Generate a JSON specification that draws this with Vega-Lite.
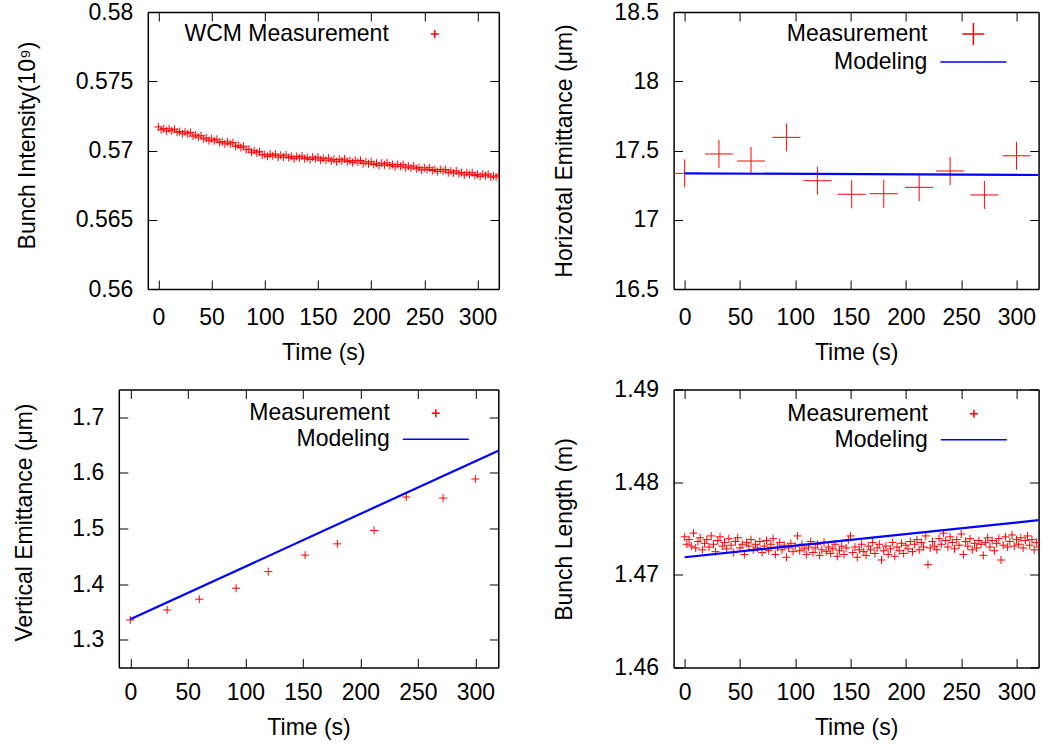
{
  "$schema": "https://vega.github.io/schema/vega-lite/v6.json",
  "background": "white",
  "padding": {"left": 12.8, "top": 1, "right": 0, "bottom": 0},
  "config": {
    "font": "Liberation Sans",
    "view": {"stroke": null},
    "axis": {"grid": false, "domain": true, "domainColor": "#000", "domainWidth": 1.5, "tickSize": -9, "tickColor": "#000", "tickWidth": 1, "labelFont": "Liberation Sans", "labelFontSize": 23, "labelColor": "#000", "titleFont": "Liberation Sans", "titleFontSize": 23, "titleFontWeight": "normal", "titleColor": "#000", "format": "~r", "labelFlush": false, "labelOverlap": false},
    "axisLeft": {"labelPadding": 24, "titleAngle": 270, "titleBaseline": "middle", "titleAlign": "center"},
    "axisBottom": {"titleBaseline": "alphabetic", "titleAlign": "center"},
    "legend": {"orient": "none", "padding": 0, "labelAlign": "right", "labelOffset": -57.5, "symbolSize": 225, "labelLimit": 400, "labelFont": "Liberation Sans", "labelFontSize": 23, "labelColor": "#000", "symbolOpacity": 1}
  },
  "datasets": {
    "A": [
      {"t":0,"v":0.5717},{"t":2.5,"v":0.571495},{"t":5,"v":0.57158},{"t":7.5,"v":0.571405},{"t":10,"v":0.57156},{"t":12.5,"v":0.571423},{"t":15,"v":0.571535},{"t":17.5,"v":0.571318},{"t":20,"v":0.57137},{"t":22.5,"v":0.571208},{"t":25,"v":0.571345},{"t":27.5,"v":0.571203},{"t":30,"v":0.5713},{"t":32.5,"v":0.571038},{"t":35,"v":0.571125},{"t":37.5,"v":0.570963},{"t":40,"v":0.57107},{"t":42.5,"v":0.570843},{"t":45,"v":0.570905},{"t":47.5,"v":0.570708},{"t":50,"v":0.57084},{"t":52.5,"v":0.5707},{"t":55,"v":0.57081},{"t":57.5,"v":0.57059},{"t":60,"v":0.57064},{"t":62.5,"v":0.570478},{"t":65,"v":0.570615},{"t":67.5,"v":0.570473},{"t":70,"v":0.57057},{"t":72.5,"v":0.5703},{"t":75,"v":0.57038},{"t":77.5,"v":0.57021},{"t":80,"v":0.57031},{"t":82.5,"v":0.570058},{"t":85,"v":0.570095},{"t":87.5,"v":0.569873},{"t":90,"v":0.56998},{"t":92.5,"v":0.569823},{"t":95,"v":0.569915},{"t":97.5,"v":0.569678},{"t":100,"v":0.56971},{"t":102.5,"v":0.569573},{"t":105,"v":0.569735},{"t":107.5,"v":0.569618},{"t":110,"v":0.56974},{"t":112.5,"v":0.56952},{"t":115,"v":0.56965},{"t":117.5,"v":0.56953},{"t":120,"v":0.56968},{"t":122.5,"v":0.569483},{"t":125,"v":0.569575},{"t":127.5,"v":0.569408},{"t":130,"v":0.56957},{"t":132.5,"v":0.56946},{"t":135,"v":0.5696},{"t":137.5,"v":0.56941},{"t":140,"v":0.56949},{"t":142.5,"v":0.569353},{"t":145,"v":0.569515},{"t":147.5,"v":0.569398},{"t":150,"v":0.56952},{"t":152.5,"v":0.569298},{"t":155,"v":0.569425},{"t":157.5,"v":0.569303},{"t":160,"v":0.56945},{"t":162.5,"v":0.569258},{"t":165,"v":0.569355},{"t":167.5,"v":0.569193},{"t":170,"v":0.56936},{"t":172.5,"v":0.569248},{"t":175,"v":0.569385},{"t":177.5,"v":0.569193},{"t":180,"v":0.56927},{"t":182.5,"v":0.569128},{"t":185,"v":0.569285},{"t":187.5,"v":0.569163},{"t":190,"v":0.56928},{"t":192.5,"v":0.569053},{"t":195,"v":0.569175},{"t":197.5,"v":0.569048},{"t":200,"v":0.56919},{"t":202.5,"v":0.568993},{"t":205,"v":0.569085},{"t":207.5,"v":0.568918},{"t":210,"v":0.56908},{"t":212.5,"v":0.568965},{"t":215,"v":0.5691},{"t":217.5,"v":0.568905},{"t":220,"v":0.56898},{"t":222.5,"v":0.568835},{"t":225,"v":0.56899},{"t":227.5,"v":0.568865},{"t":230,"v":0.56898},{"t":232.5,"v":0.56875},{"t":235,"v":0.56887},{"t":237.5,"v":0.56874},{"t":240,"v":0.56888},{"t":242.5,"v":0.568678},{"t":245,"v":0.568765},{"t":247.5,"v":0.568593},{"t":250,"v":0.56875},{"t":252.5,"v":0.568628},{"t":255,"v":0.568755},{"t":257.5,"v":0.568553},{"t":260,"v":0.56862},{"t":262.5,"v":0.568478},{"t":265,"v":0.568635},{"t":267.5,"v":0.568513},{"t":270,"v":0.56863},{"t":272.5,"v":0.568398},{"t":275,"v":0.568515},{"t":277.5,"v":0.568383},{"t":280,"v":0.56852},{"t":282.5,"v":0.568318},{"t":285,"v":0.568405},{"t":287.5,"v":0.568233},{"t":290,"v":0.56839},{"t":292.5,"v":0.56827},{"t":295,"v":0.5684},{"t":297.5,"v":0.5682},{"t":300,"v":0.56827},{"t":302.5,"v":0.568133},{"t":305,"v":0.568295},{"t":307.5,"v":0.568178},{"t":310,"v":0.5683},{"t":312.5,"v":0.568078},{"t":315,"v":0.56816},{"t":317.5,"v":0.568083},{"t":320,"v":0.56823}
    ],
    "B": [
      {"t":0,"v":17.335},{"t":31,"v":17.475},{"t":60,"v":17.424},{"t":92,"v":17.595},{"t":120,"v":17.282},{"t":151,"v":17.184},{"t":180,"v":17.188},{"t":212,"v":17.234},{"t":240,"v":17.352},{"t":271,"v":17.179},{"t":300,"v":17.462}
    ],
    "BM": [{"t":0,"v":17.335},{"t":320,"v":17.323}],
    "C": [
      {"t":0,"v":1.3355},{"t":32,"v":1.3535},{"t":60,"v":1.3728},{"t":92,"v":1.3926},{"t":120,"v":1.4225},{"t":152,"v":1.4521},{"t":180,"v":1.4724},{"t":212,"v":1.4964},{"t":240,"v":1.5566},{"t":272,"v":1.5548},{"t":300,"v":1.589}
    ],
    "CM": [{"t":0,"v":1.3367},{"t":320,"v":1.64}],
    "D": [
      {"t":0,"v":1.4741},{"t":2,"v":1.4733},{"t":4,"v":1.4738},{"t":6,"v":1.4731},{"t":8,"v":1.4745},{"t":10,"v":1.4729},{"t":12,"v":1.4736},{"t":14,"v":1.474},{"t":16,"v":1.4727},{"t":18,"v":1.4734},{"t":20,"v":1.4738},{"t":22,"v":1.473},{"t":24,"v":1.4742},{"t":26,"v":1.4733},{"t":28,"v":1.4725},{"t":30,"v":1.4737},{"t":32,"v":1.4741},{"t":34,"v":1.4731},{"t":36,"v":1.4735},{"t":38,"v":1.4728},{"t":40,"v":1.4739},{"t":42,"v":1.4732},{"t":44,"v":1.4724},{"t":46,"v":1.4736},{"t":48,"v":1.474},{"t":50,"v":1.4729},{"t":52,"v":1.4733},{"t":54,"v":1.4722},{"t":56,"v":1.4735},{"t":58,"v":1.4731},{"t":60,"v":1.4738},{"t":62,"v":1.4727},{"t":64,"v":1.4733},{"t":66,"v":1.4729},{"t":68,"v":1.4736},{"t":70,"v":1.4724},{"t":72,"v":1.4731},{"t":74,"v":1.4737},{"t":76,"v":1.4726},{"t":78,"v":1.4733},{"t":80,"v":1.4739},{"t":82,"v":1.4722},{"t":84,"v":1.473},{"t":86,"v":1.4735},{"t":88,"v":1.4727},{"t":90,"v":1.4732},{"t":92,"v":1.4719},{"t":94,"v":1.4729},{"t":96,"v":1.4734},{"t":98,"v":1.4725},{"t":100,"v":1.4731},{"t":102,"v":1.4742},{"t":104,"v":1.4726},{"t":106,"v":1.4733},{"t":108,"v":1.4728},{"t":110,"v":1.4722},{"t":112,"v":1.473},{"t":114,"v":1.4736},{"t":116,"v":1.4724},{"t":118,"v":1.4729},{"t":120,"v":1.4733},{"t":122,"v":1.4721},{"t":124,"v":1.4727},{"t":126,"v":1.4735},{"t":128,"v":1.4725},{"t":130,"v":1.473},{"t":132,"v":1.4723},{"t":134,"v":1.4728},{"t":136,"v":1.4733},{"t":138,"v":1.472},{"t":140,"v":1.4726},{"t":142,"v":1.4731},{"t":144,"v":1.4722},{"t":146,"v":1.4729},{"t":148,"v":1.4738},{"t":150,"v":1.4742},{"t":152,"v":1.4724},{"t":154,"v":1.473},{"t":156,"v":1.4719},{"t":158,"v":1.4727},{"t":160,"v":1.4733},{"t":162,"v":1.4725},{"t":164,"v":1.4721},{"t":166,"v":1.4731},{"t":168,"v":1.4727},{"t":170,"v":1.4735},{"t":172,"v":1.4723},{"t":174,"v":1.4729},{"t":176,"v":1.4733},{"t":178,"v":1.4716},{"t":180,"v":1.4726},{"t":182,"v":1.4731},{"t":184,"v":1.4722},{"t":186,"v":1.4728},{"t":188,"v":1.4735},{"t":190,"v":1.472},{"t":192,"v":1.473},{"t":194,"v":1.4726},{"t":196,"v":1.4734},{"t":198,"v":1.4723},{"t":200,"v":1.4732},{"t":202,"v":1.4728},{"t":204,"v":1.4736},{"t":206,"v":1.4725},{"t":208,"v":1.4733},{"t":210,"v":1.4738},{"t":212,"v":1.4727},{"t":214,"v":1.4735},{"t":216,"v":1.473},{"t":218,"v":1.4742},{"t":220,"v":1.4711},{"t":222,"v":1.4729},{"t":224,"v":1.4736},{"t":226,"v":1.4731},{"t":228,"v":1.4727},{"t":230,"v":1.4739},{"t":232,"v":1.4733},{"t":234,"v":1.4745},{"t":236,"v":1.4737},{"t":238,"v":1.473},{"t":240,"v":1.4741},{"t":242,"v":1.4735},{"t":244,"v":1.4728},{"t":246,"v":1.4738},{"t":248,"v":1.4732},{"t":250,"v":1.4744},{"t":252,"v":1.4722},{"t":254,"v":1.4736},{"t":256,"v":1.4731},{"t":258,"v":1.4739},{"t":260,"v":1.4727},{"t":262,"v":1.4734},{"t":264,"v":1.4729},{"t":266,"v":1.4737},{"t":268,"v":1.4733},{"t":270,"v":1.4721},{"t":272,"v":1.4735},{"t":274,"v":1.474},{"t":276,"v":1.473},{"t":278,"v":1.4737},{"t":280,"v":1.4726},{"t":282,"v":1.4734},{"t":284,"v":1.4739},{"t":286,"v":1.4716},{"t":288,"v":1.4732},{"t":290,"v":1.4741},{"t":292,"v":1.473},{"t":294,"v":1.4736},{"t":296,"v":1.4743},{"t":298,"v":1.4731},{"t":300,"v":1.4738},{"t":302,"v":1.4733},{"t":304,"v":1.474},{"t":306,"v":1.4729},{"t":308,"v":1.4737},{"t":310,"v":1.4742},{"t":312,"v":1.4732},{"t":314,"v":1.4738},{"t":316,"v":1.4727},{"t":318,"v":1.4735},{"t":320,"v":1.473}
    ],
    "DM": [{"t":0,"v":1.4719},{"t":320,"v":1.4759}]
  },
  "columns": 2,
  "align": "each",
  "spacing": {"row": 13.5, "column": 53.8},
  "resolve": {"scale": {"color": "independent", "shape": "independent"}, "legend": {"color": "independent", "shape": "independent"}},
  "concat": [
    {
      "width": 380, "height": 277,
      "layer": [
        {
          "data": {"name": "A"},
          "mark": {"type": "point", "filled": false, "opacity": 1, "size": 225, "strokeWidth": 1, "clip": true},
          "encoding": {
            "x": {"field": "t", "type": "quantitative", "scale": {"domain": [-10, 320], "nice": false, "zero": false, "rangeMin": 29}, "axis": {"title": "Time (s)", "values": [0,50,100,150,200,250,300], "labelPadding": 26.3, "titleY": 70.5}},
            "y": {"field": "v", "type": "quantitative", "scale": {"domain": [0.56, 0.58], "nice": false, "zero": false}, "axis": {"title": "Bunch Intensity(10⁹)", "values": [0.56,0.565,0.57,0.575,0.58], "offset": -29, "titleX": -120, "titleY": 133}},
            "color": {"datum": "WCM Measurement", "type": "nominal", "scale": {"domain": ["WCM Measurement"], "range": ["#ff0000"]}, "legend": {"title": null, "legendX": 304.5, "legendY": 10.5, "encode": {"symbols": {"update": {"strokeWidth": {"value": 1}, "fill": {"value": "transparent"}, "stroke": {"value": "#ff0000"}}}}}},
            "shape": {"datum": "WCM Measurement", "type": "nominal", "scale": {"domain": ["WCM Measurement"], "range": ["M-0.533,0H0.533M0,-0.533V0.533"]}, "legend": {"title": null, "legendX": 304.5, "legendY": 10.5}}
          }
        },
        {
          "data": {"name": "A"},
          "mark": {"type": "point", "opacity": 0, "clip": true},
          "encoding": {
            "x": {"field": "t", "type": "quantitative", "scale": {"domain": [-10, 320], "nice": false, "zero": false, "rangeMin": 29}, "axis": {"orient": "top", "labels": false, "title": null, "values": [0,50,100,150,200,250,300]}},
            "y": {"field": "v", "type": "quantitative", "scale": {"domain": [0.56, 0.58], "nice": false, "zero": false}, "axis": {"orient": "right", "labels": false, "title": null, "values": [0.56,0.565,0.57,0.575,0.58]}}
          }
        }
      ],
      "resolve": {"axis": {"x": "independent", "y": "independent"}}
    },
    {
      "width": 365, "height": 277,
      "layer": [
        {
          "data": {"name": "B"},
          "mark": {"type": "point", "filled": false, "opacity": 1, "size": 364, "strokeWidth": 1, "clip": true},
          "encoding": {
            "x": {"field": "t", "type": "quantitative", "scale": {"domain": [-10, 320], "nice": false, "zero": false}, "axis": {"title": "Time (s)", "values": [0,50,100,150,200,250,300], "labelPadding": 26.3, "titleY": 70.5}},
            "y": {"field": "v", "type": "quantitative", "scale": {"domain": [16.5, 18.5], "nice": false, "zero": false}, "axis": {"title": "Horizotal Emittance (μm)", "values": [16.5,17,17.5,18,18.5], "titleX": -108.7, "titleY": 138.5}},
            "color": {"datum": "Measurement", "type": "nominal", "scale": {"domain": ["Measurement", "Modeling"], "range": ["#ff0000", "#0000ff"]}, "legend": {"title": null, "legendX": 288.3, "legendY": 10.5, "encode": {"symbols": {"update": {"strokeWidth": {"signal": "datum.value === 'Modeling' ? 2.2 : 1"}, "fill": {"value": "transparent"}, "stroke": {"signal": "datum.value === 'Modeling' ? '#0000ff' : '#ff0000'"}}}}}},
            "shape": {"datum": "Measurement", "type": "nominal", "scale": {"domain": ["Measurement", "Modeling"], "range": ["M-1.467,0H1.467M0,-1.467V1.467", "M-4.4,0H4.4"]}, "legend": {"title": null, "legendX": 288.3, "legendY": 10.5}}
          }
        },
        {
          "data": {"name": "BM"},
          "mark": {"type": "line", "strokeWidth": 2.2, "clip": true},
          "encoding": {
            "x": {"field": "t", "type": "quantitative", "scale": {"domain": [-10, 320], "nice": false, "zero": false}, "axis": {"orient": "top", "labels": false, "title": null, "values": [0,50,100,150,200,250,300]}},
            "y": {"field": "v", "type": "quantitative", "scale": {"domain": [16.5, 18.5], "nice": false, "zero": false}, "axis": {"orient": "right", "labels": false, "title": null, "values": [16.5,17,17.5,18,18.5]}},
            "color": {"datum": "Modeling", "type": "nominal", "scale": {"domain": ["Measurement", "Modeling"], "range": ["#ff0000", "#0000ff"]}, "legend": {"title": null, "legendX": 288.3, "legendY": 10.5}}
          }
        }
      ],
      "resolve": {"axis": {"x": "independent", "y": "independent"}}
    },
    {
      "width": 379.5, "height": 278,
      "layer": [
        {
          "data": {"name": "C"},
          "mark": {"type": "point", "filled": false, "opacity": 1, "size": 225, "strokeWidth": 1, "clip": true},
          "encoding": {
            "x": {"field": "t", "type": "quantitative", "scale": {"domain": [-10, 320], "nice": false, "zero": false}, "axis": {"title": "Time (s)", "values": [0,50,100,150,200,250,300], "labelPadding": 23, "titleY": 67}},
            "y": {"field": "v", "type": "quantitative", "scale": {"domain": [1.25, 1.75], "nice": false, "zero": false}, "axis": {"title": "Vertical Emittance (μm)", "values": [1.3,1.4,1.5,1.6,1.7], "titleX": -94.3, "titleY": 132.5}},
            "color": {"datum": "Measurement", "type": "nominal", "scale": {"domain": ["Measurement", "Modeling"], "range": ["#ff0000", "#0000ff"]}, "legend": {"title": null, "legendX": 305.5, "legendY": 12.3, "encode": {"symbols": {"update": {"strokeWidth": {"signal": "datum.value === 'Modeling' ? 2.2 : 1"}, "fill": {"value": "transparent"}, "stroke": {"signal": "datum.value === 'Modeling' ? '#0000ff' : '#ff0000'"}}}}}},
            "shape": {"datum": "Measurement", "type": "nominal", "scale": {"domain": ["Measurement", "Modeling"], "range": ["M-0.533,0H0.533M0,-0.533V0.533", "M-4.4,0H4.4"]}, "legend": {"title": null, "legendX": 305.5, "legendY": 12.3}}
          }
        },
        {
          "data": {"name": "CM"},
          "mark": {"type": "line", "strokeWidth": 2.2, "clip": true},
          "encoding": {
            "x": {"field": "t", "type": "quantitative", "scale": {"domain": [-10, 320], "nice": false, "zero": false}, "axis": {"orient": "top", "labels": false, "title": null, "values": [0,50,100,150,200,250,300]}},
            "y": {"field": "v", "type": "quantitative", "scale": {"domain": [1.25, 1.75], "nice": false, "zero": false}, "axis": {"orient": "right", "labels": false, "title": null, "values": [1.3,1.4,1.5,1.6,1.7]}},
            "color": {"datum": "Modeling", "type": "nominal", "scale": {"domain": ["Measurement", "Modeling"], "range": ["#ff0000", "#0000ff"]}, "legend": {"title": null, "legendX": 305.5, "legendY": 12.3}}
          }
        }
      ],
      "resolve": {"axis": {"x": "independent", "y": "independent"}}
    },
    {
      "width": 365, "height": 278,
      "layer": [
        {
          "data": {"name": "D"},
          "mark": {"type": "point", "filled": false, "opacity": 1, "size": 225, "strokeWidth": 1, "clip": true},
          "encoding": {
            "x": {"field": "t", "type": "quantitative", "scale": {"domain": [-10, 320], "nice": false, "zero": false}, "axis": {"title": "Time (s)", "values": [0,50,100,150,200,250,300], "labelPadding": 23, "titleY": 67}},
            "y": {"field": "v", "type": "quantitative", "scale": {"domain": [1.46, 1.49], "nice": false, "zero": false}, "axis": {"title": "Bunch Length (m)", "values": [1.46,1.47,1.48,1.49], "titleX": -108.7, "titleY": 139.5}},
            "color": {"datum": "Measurement", "type": "nominal", "scale": {"domain": ["Measurement", "Modeling"], "range": ["#ff0000", "#0000ff"]}, "legend": {"title": null, "legendX": 288.8, "legendY": 12.8, "encode": {"symbols": {"update": {"strokeWidth": {"signal": "datum.value === 'Modeling' ? 2.2 : 1"}, "fill": {"value": "transparent"}, "stroke": {"signal": "datum.value === 'Modeling' ? '#0000ff' : '#ff0000'"}}}}}},
            "shape": {"datum": "Measurement", "type": "nominal", "scale": {"domain": ["Measurement", "Modeling"], "range": ["M-0.533,0H0.533M0,-0.533V0.533", "M-4.4,0H4.4"]}, "legend": {"title": null, "legendX": 288.8, "legendY": 12.8}}
          }
        },
        {
          "data": {"name": "DM"},
          "mark": {"type": "line", "strokeWidth": 2.2, "clip": true},
          "encoding": {
            "x": {"field": "t", "type": "quantitative", "scale": {"domain": [-10, 320], "nice": false, "zero": false}, "axis": {"orient": "top", "labels": false, "title": null, "values": [0,50,100,150,200,250,300]}},
            "y": {"field": "v", "type": "quantitative", "scale": {"domain": [1.46, 1.49], "nice": false, "zero": false}, "axis": {"orient": "right", "labels": false, "title": null, "values": [1.46,1.47,1.48,1.49]}},
            "color": {"datum": "Modeling", "type": "nominal", "scale": {"domain": ["Measurement", "Modeling"], "range": ["#ff0000", "#0000ff"]}, "legend": {"title": null, "legendX": 288.8, "legendY": 12.8}}
          }
        }
      ],
      "resolve": {"axis": {"x": "independent", "y": "independent"}}
    }
  ]
}
